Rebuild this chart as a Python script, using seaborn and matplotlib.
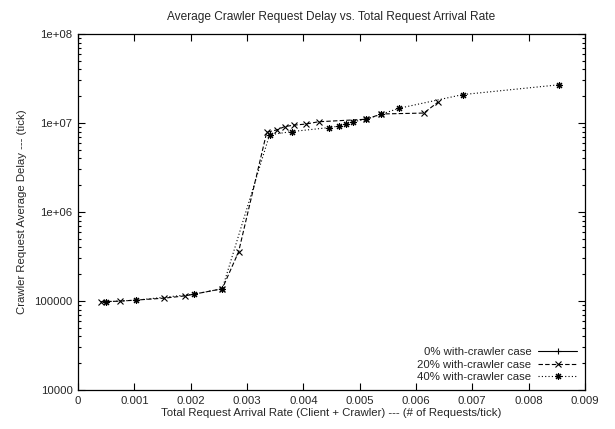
import numpy as np
import pandas as pd
import seaborn as sns
import matplotlib
matplotlib.use('Agg')
import matplotlib.pyplot as plt
from matplotlib.ticker import FixedLocator, FixedFormatter, LogLocator, NullFormatter, NullLocator

# data
rate_0 = []
delay_0 = []

rate_20 = [0.0004, 0.00075, 0.00153, 0.0019, 0.00256, 0.00285, 0.00335, 0.00353,
           0.00367, 0.00384, 0.00404, 0.00427, 0.00512, 0.00538, 0.00614, 0.00639]
delay_20 = [98000, 99500, 107500, 114000, 137000, 356000, 7850000, 8350000,
            9100000, 9450000, 9700000, 10300000, 11000000, 12600000, 12900000, 17100000]

rate_40 = [0.0005, 0.00103, 0.00205, 0.00256, 0.0034, 0.0038, 0.00446, 0.00464,
           0.00476, 0.00488, 0.00512, 0.00538, 0.0057, 0.00683, 0.00854]
delay_40 = [98000, 102000, 119000, 137000, 7350000, 8000000, 8860000, 9250000,
            9750000, 10300000, 11000000, 12500000, 14600000, 20800000, 26800000]

labels = ['0% with-crawler case', '20% with-crawler case', '40% with-crawler case']

x_ticks = [0, 0.001, 0.002, 0.003, 0.004, 0.005, 0.006, 0.007, 0.008, 0.009]
x_labels = ['0', '0.001', '0.002', '0.003', '0.004', '0.005', '0.006', '0.007', '0.008', '0.009']
y_ticks = [1e4, 1e5, 1e6, 1e7, 1e8]
y_labels = ['10000', '100000', '1e+06', '1e+07', '1e+08']

sns.set_style('ticks')
plt.rcParams['font.family'] = ['Liberation Sans', 'DejaVu Sans']

df20 = pd.DataFrame({'rate': rate_20, 'delay': delay_20})
df40 = pd.DataFrame({'rate': rate_40, 'delay': delay_40})

fig = plt.figure(figsize=(6.15, 4.29), dpi=100)
ax = fig.add_axes([0.127, 0.091, 0.824, 0.830])

ax.plot(rate_0, delay_0, color='black', linestyle='-', marker='+', lw=0.8,
        markersize=5, markeredgewidth=0.8, label=labels[0])
sns.lineplot(data=df20, x='rate', y='delay', ax=ax, sort=False, color='black',
             linestyle=(0, (4, 2)), marker='x', markersize=4.5, lw=0.8,
             markeredgewidth=0.8, markeredgecolor='black', label=labels[1])
sns.lineplot(data=df40, x='rate', y='delay', ax=ax, sort=False, color='black',
             linestyle=(0, (1, 2)), marker=(8, 2, 0), markersize=5, lw=0.8,
             markeredgewidth=0.8, markeredgecolor='black', label=labels[2])

ax.set_yscale('log')
ax.set_xlim(0, 0.009)
ax.set_ylim(1e4, 1e8)

ax.xaxis.set_major_locator(FixedLocator(x_ticks))
ax.xaxis.set_major_formatter(FixedFormatter(x_labels))
ax.xaxis.set_minor_locator(NullLocator())
ax.yaxis.set_major_locator(FixedLocator(y_ticks))
ax.yaxis.set_major_formatter(FixedFormatter(y_labels))
ax.yaxis.set_minor_locator(LogLocator(base=10, subs=np.arange(2, 10)))
ax.yaxis.set_minor_formatter(NullFormatter())

ax.tick_params(which='both', direction='in', top=True, right=True, labelsize=8.2,
               width=0.8, color='black')
ax.tick_params(which='major', length=5, pad=4)
ax.tick_params(which='minor', length=2.5)
for s in ax.spines.values():
    s.set_linewidth(0.9)
    s.set_color('black')

ax.set_title('Average Crawler Request Delay vs. Total Request Arrival Rate',
             fontsize=8.6, pad=10)
ax.set_xlabel('Total Request Arrival Rate (Client + Crawler) --- (# of Requests/tick)',
              fontsize=8.2, labelpad=2)
ax.set_ylabel('Crawler Request Average Delay --- (tick)', fontsize=8.2, labelpad=5)

ax.legend(loc='lower right', frameon=False, markerfirst=False, fontsize=8.2,
          handlelength=3.4, handletextpad=0.6, labelspacing=0.2, borderaxespad=0.3)

fig.savefig('out.png', dpi=100)
